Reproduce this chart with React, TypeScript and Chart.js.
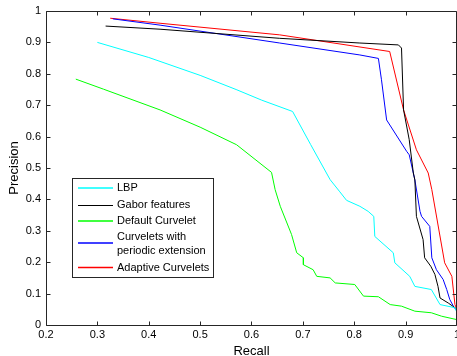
import { useEffect, useRef } from 'react';
import { Chart, registerables } from 'chart.js';
Chart.register(...registerables);

const xTickValues = [0.2, 0.3, 0.4, 0.5, 0.6, 0.7, 0.8, 0.9, 1];
const xTickLabels = ['0.2', '0.3', '0.4', '0.5', '0.6', '0.7', '0.8', '0.9', '1'];
const yTickValues = [0, 0.1, 0.2, 0.3, 0.4, 0.5, 0.6, 0.7, 0.8, 0.9, 1];
const yTickLabels = ['0', '0.1', '0.2', '0.3', '0.4', '0.5', '0.6', '0.7', '0.8', '0.9', '1'];

const lbpRecall = [0.3, 0.4, 0.5, 0.57, 0.62, 0.68, 0.715, 0.753, 0.772, 0.785, 0.811, 0.827, 0.838, 0.84, 0.876, 0.879, 0.908, 0.918, 0.95, 0.967, 0.996, 1.0];
const lbpPrecision = [0.9, 0.852, 0.795, 0.75, 0.716, 0.68, 0.575, 0.463, 0.424, 0.397, 0.378, 0.362, 0.346, 0.282, 0.23, 0.198, 0.155, 0.123, 0.113, 0.065, 0.055, 0.039];

const gaborRecall = [0.316, 0.422, 0.655, 0.811, 0.886, 0.892, 0.896, 0.907, 0.915, 0.918, 0.921, 0.934, 0.937, 0.949, 0.957, 0.963, 0.967, 0.983, 0.996, 1.0];
const gaborPrecision = [0.952, 0.942, 0.913, 0.898, 0.892, 0.882, 0.685, 0.59, 0.484, 0.462, 0.346, 0.272, 0.214, 0.187, 0.161, 0.123, 0.086, 0.07, 0.055, 0.05];

const defaultRecall = [0.258, 0.312, 0.422, 0.5, 0.571, 0.639, 0.646, 0.656, 0.678, 0.688, 0.701, 0.701, 0.72, 0.727, 0.753, 0.763, 0.801, 0.818, 0.847, 0.87, 0.892, 0.918, 0.95, 0.97, 1.0];
const defaultPrecision = [0.783, 0.751, 0.685, 0.63, 0.574, 0.486, 0.431, 0.378, 0.288, 0.23, 0.214, 0.192, 0.176, 0.155, 0.15, 0.134, 0.129, 0.092, 0.09, 0.065, 0.06, 0.044, 0.039, 0.028, 0.017];

const periodicRecall = [0.33, 0.422, 0.655, 0.811, 0.847, 0.853, 0.863, 0.902, 0.907, 0.918, 0.928, 0.931, 0.947, 0.951, 0.96, 0.973, 0.98, 0.986, 0.993, 1.0];
const periodicPrecision = [0.975, 0.955, 0.898, 0.86, 0.849, 0.781, 0.653, 0.553, 0.542, 0.462, 0.362, 0.346, 0.314, 0.214, 0.176, 0.145, 0.113, 0.081, 0.06, 0.044];

const adaptiveRecall = [0.325, 0.422, 0.655, 0.869, 0.896, 0.921, 0.944, 0.951, 0.976, 0.99, 0.996, 1.0];
const adaptivePrecision = [0.977, 0.961, 0.924, 0.871, 0.685, 0.558, 0.484, 0.431, 0.198, 0.155, 0.065, 0.049];

const seriesNames = ['LBP', 'Gabor features', 'Default Curvelet', 'Curvelets with\nperiodic extension', 'Adaptive Curvelets'];
const seriesColors = ['#00ffff', '#000000', '#00ff00', '#0000ff', '#ff0000'];

const FONT = '"Liberation Sans", Arial, sans-serif';

const framePlugin = {
  id: 'frame',
  afterDraw(chart: any) {
    const { ctx, chartArea: a, scales } = chart;
    const x = scales.x;
    const y = scales.y;
    ctx.save();
    ctx.strokeStyle = '#262626';
    ctx.lineWidth = 1;
    const L = Math.round(a.left) + 0.5;
    const R = Math.round(a.right) - 0.5;
    const T = Math.round(a.top) + 0.5;
    const B = Math.round(a.bottom) + 0.5;
    ctx.beginPath();
    ctx.moveTo(L, T); ctx.lineTo(R, T); ctx.lineTo(R, B); ctx.lineTo(L, B); ctx.closePath();
    ctx.stroke();
    ctx.beginPath();
    xTickValues.forEach((v) => {
      const px = Math.round(x.getPixelForValue(v)) + 0.5;
      ctx.moveTo(px, B); ctx.lineTo(px, B - 4);
      ctx.moveTo(px, T); ctx.lineTo(px, T + 4);
    });
    yTickValues.forEach((v) => {
      const py = Math.round(y.getPixelForValue(v)) + 0.5;
      ctx.moveTo(L, py); ctx.lineTo(L + 4, py);
      ctx.moveTo(R, py); ctx.lineTo(R - 4, py);
    });
    ctx.stroke();

    // axis titles
    ctx.fillStyle = '#000';
    ctx.font = '13px ' + FONT;
    ctx.textAlign = 'center';
    ctx.textBaseline = 'middle';
    ctx.fillText('Recall', (a.left + a.right) / 2, 351);
    ctx.save();
    ctx.translate(14, (a.top + a.bottom) / 2);
    ctx.rotate(-Math.PI / 2);
    ctx.fillText('Precision', 0, 0);
    ctx.restore();

    // legend
    const bx = 72.5, by = 178.5, bw = 141, bh = 99;
    ctx.fillStyle = '#ffffff';
    ctx.fillRect(bx, by, bw, bh);
    ctx.strokeStyle = '#262626';
    ctx.strokeRect(bx, by, bw, bh);
    ctx.font = '11px ' + FONT;
    ctx.textAlign = 'left';
    ctx.textBaseline = 'middle';
    const rowYs = [[187.5], [205], [221], [237, 251], [267.5]];
    const lineYs = [188, 205.5, 221, 243, 267.5];
    for (let i = 0; i < seriesNames.length; i++) {
      ctx.strokeStyle = seriesColors[i];
      ctx.lineWidth = i === 1 ? 1 : 1.5;
      ctx.beginPath();
      ctx.moveTo(78, lineYs[i]);
      ctx.lineTo(113, lineYs[i]);
      ctx.stroke();
      ctx.fillStyle = '#000000';
      const lines = seriesNames[i].split('\n');
      for (let j = 0; j < lines.length; j++) ctx.fillText(lines[j], 117, rowYs[i][j]);
    }
    ctx.restore();
  },
};

export default function App() {
  const ref = useRef<HTMLCanvasElement>(null);
  useEffect(() => {
    document.body.style.margin = '0';
    const zip = (xs: number[], ys: number[]) => xs.map((v, i) => ({ x: v, y: ys[i] }));
    const recalls = [lbpRecall, gaborRecall, defaultRecall, periodicRecall, adaptiveRecall];
    const precisions = [lbpPrecision, gaborPrecision, defaultPrecision, periodicPrecision, adaptivePrecision];
    const chart = new Chart(ref.current as HTMLCanvasElement, {
      type: 'line',
      data: {
        datasets: seriesNames.map((n, i) => ({
          label: n,
          data: zip(recalls[i], precisions[i]),
          borderColor: seriesColors[i],
          backgroundColor: seriesColors[i],
          borderWidth: 1,
          pointRadius: 0,
          tension: 0,
          fill: false,
        })),
      },
      options: {
        responsive: false,
        animation: false,
        layout: { padding: { top: 11, right: 0, left: 0, bottom: 0 } },
        plugins: { legend: { display: false }, tooltip: { enabled: false } },
        scales: {
          x: {
            type: 'linear',
            min: 0.2,
            max: 1,
            grid: { display: false, drawTicks: false },
            border: { display: false },
            afterBuildTicks: (s: any) => { s.ticks = xTickValues.map((v) => ({ value: v })); },
            afterFit: (s: any) => { s.height = 31; s.paddingLeft = 0; s.paddingRight = 0; },
            ticks: {
              color: '#000',
              font: { family: FONT, size: 11 },
              padding: 3,
              maxRotation: 0,
              autoSkip: false,
              callback: (_v: any, i: number) => xTickLabels[i],
            },
          },
          y: {
            type: 'linear',
            min: 0,
            max: 1,
            grid: { display: false, drawTicks: false },
            border: { display: false },
            afterBuildTicks: (s: any) => { s.ticks = yTickValues.map((v) => ({ value: v })); },
            afterFit: (s: any) => { s.width = 46; s.paddingTop = 0; s.paddingBottom = 0; },
            ticks: {
              color: '#000',
              font: { family: FONT, size: 11 },
              padding: 5,
              autoSkip: false,
              callback: (_v: any, i: number) => yTickLabels[i],
            },
          },
        },
      } as any,
      plugins: [framePlugin],
    });
    return () => chart.destroy();
  }, []);
  return <canvas ref={ref} width={457} height={356} style={{ display: 'block' }} />;
}
